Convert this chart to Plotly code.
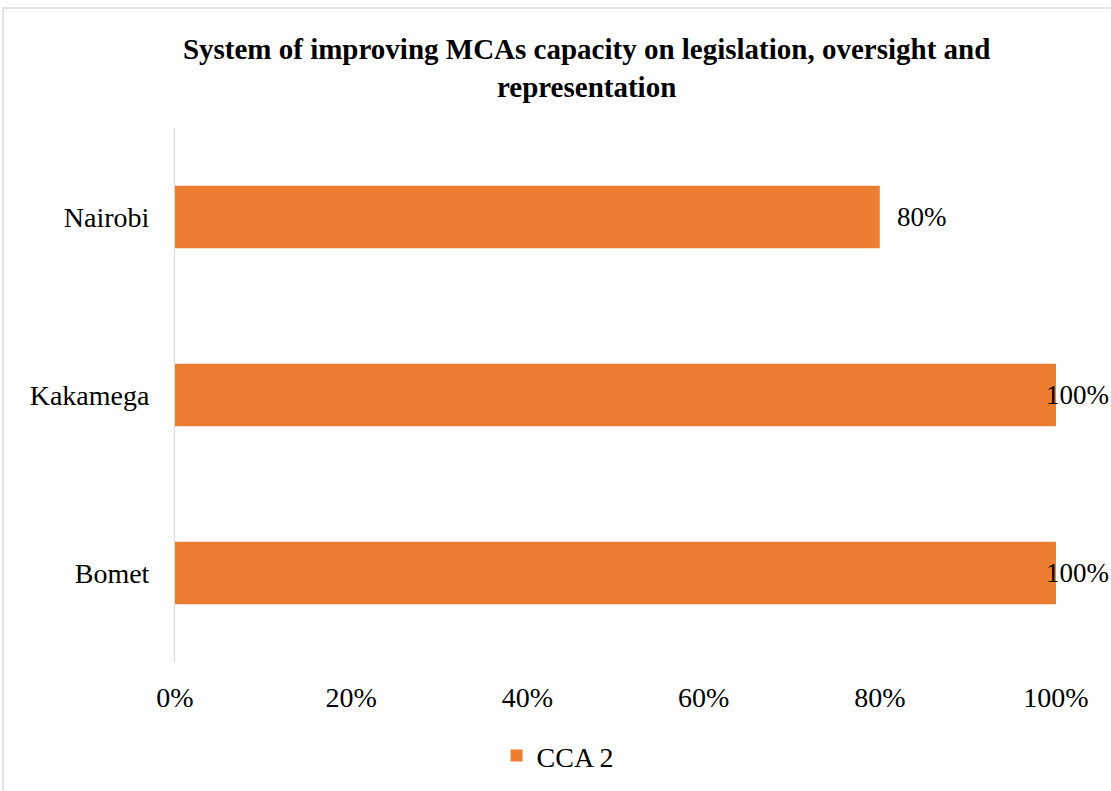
import plotly.graph_objects as go

categories = ["Bomet", "Kakamega", "Nairobi"]
values = [1.00, 1.00, 0.80]
labels = ["100%", "100%", "80%"]
series_name = "CCA 2"
tick_vals = [0, 0.2, 0.4, 0.6, 0.8, 1.0]
tick_text = ["0%", "20%", "40%", "60%", "80%", "100%"]
title_text = "System of improving MCAs capacity on legislation, oversight and<br>representation"

FONT = "Liberation Serif, Times New Roman, serif"
ORANGE = "#ED7D31"

fig = go.Figure()
fig.add_trace(go.Bar(
    y=categories, x=values, orientation="h", name=series_name,
    marker=dict(color=ORANGE, line=dict(width=0)), width=0.35,
    showlegend=True,
))

annotations = []
for c, v, t in zip(categories, values, labels):
    shift = 15 if v < 0.95 else -12
    annotations.append(dict(x=v, y=c, xref="x", yref="y", text=t, showarrow=False,
                            xanchor="left", xshift=shift,
                            font=dict(family=FONT, size=27, color="#000000")))

fig.update_layout(
    width=1111, height=791,
    margin=dict(l=175, r=55, t=128, b=129, autoexpand=False),
    paper_bgcolor="white", plot_bgcolor="white",
    title=dict(text=title_text, x=0.528, xanchor="center", y=0.925, yanchor="top",
               font=dict(family=FONT, size=29, color="#000000", weight="bold")),
    xaxis=dict(range=[0, 1], tickvals=tick_vals, ticktext=tick_text, showgrid=False,
               zeroline=False, showline=False, ticks="outside", ticklen=10, tickcolor="rgba(0,0,0,0)",
               automargin=False,
               tickfont=dict(family=FONT, size=28, color="#000000")),
    yaxis=dict(range=[-0.5, 2.5], showgrid=False, zeroline=False, showline=True,
               linecolor="#D9D9D9", linewidth=1, ticks="outside", ticklen=19,
               tickcolor="rgba(0,0,0,0)", automargin=False,
               tickfont=dict(family=FONT, size=28, color="#000000")),
    legend=dict(orientation="h", x=0.365, xanchor="left", y=-0.129, yanchor="top",
                font=dict(family=FONT, size=28, color="#000000")),
    annotations=annotations,
    shapes=[dict(type="rect", xref="paper", yref="paper", x0=-0.1952, y0=-0.6, x1=1.2, y1=1.2247,
                 line=dict(color="#D9D9D9", width=1.5), fillcolor="rgba(0,0,0,0)", layer="below")],
)

fig.write_html("out.html")
